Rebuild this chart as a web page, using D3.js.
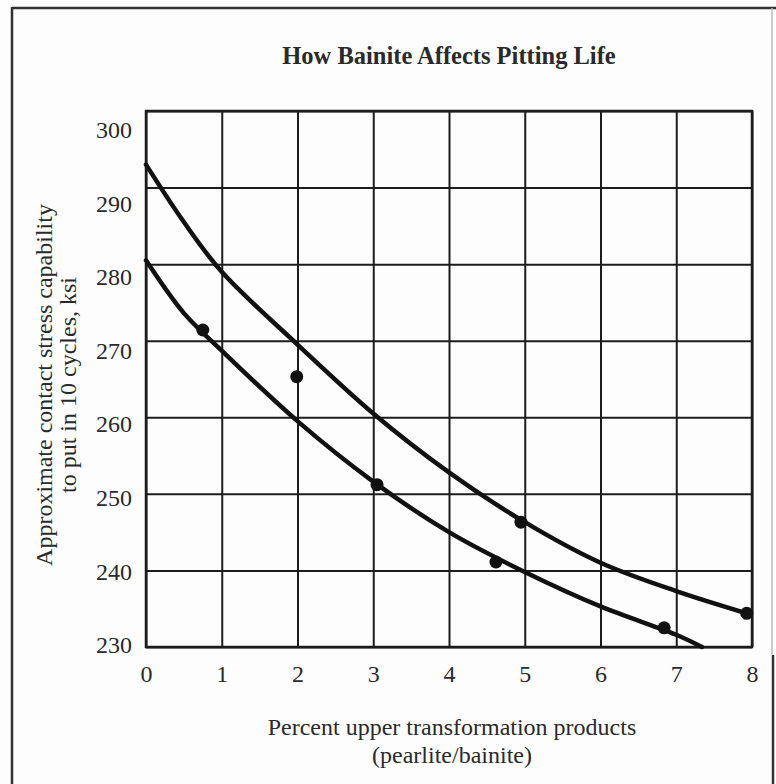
<!DOCTYPE html>
<html>
<head>
<meta charset="utf-8">
<script src="https://cdn.jsdelivr.net/npm/d3@7"></script>
<style>
  html, body { margin: 0; padding: 0; background: #fdfdfd; }
  svg { display: block; }
  text { font-family: "Liberation Serif", "DejaVu Serif", serif; fill: #2a2a2a; }
</style>
</head>
<body>
<svg id="chart" width="776" height="784"></svg>
<script>
(function() {

  'use strict';

  // chart data
  var xTicks = [0, 1, 2, 3, 4, 5, 6, 7, 8];
  var yTicks = [230, 240, 250, 260, 270, 280, 290, 300];

  // upper curve (drawn line)
  var upperX = [0, 0.5, 1, 2, 3, 4, 5, 6, 7, 7.93];
  var upperY = [293, 285.5, 279, 269.5, 260.5, 252.8, 246.3, 241, 237.3, 234.4];

  // lower curve (drawn line)
  var lowerX = [0, 0.5, 1, 2, 3, 4, 5, 6, 7, 7.34];
  var lowerY = [280.5, 273.6, 268.7, 259.5, 251.6, 245, 239.8, 235.3, 231.6, 230];

  // measured points
  var dotX = [0.75, 1.99, 3.05, 4.62, 4.95, 6.84, 7.93];
  var dotY = [271.4, 265.3, 251.2, 241.1, 246.3, 232.5, 234.4];

  var svg = d3.select('#chart');

  var left = 146, right = 752, top = 111, bottom = 647;

  var x = d3.scaleLinear().domain([0, 8]).range([left, right]);
  var y = d3.scaleLinear().domain([230, 300]).range([bottom, top]);
  // the printed y labels sit on a slightly tighter spacing than the grid
  var yLab = d3.scaleLinear().domain([230, 300]).range([645, 130]);

  // outer frame of the figure
  svg.append('line').attr('x1', 12).attr('y1', 8).attr('x2', 776).attr('y2', 8)
    .attr('stroke', '#333').attr('stroke-width', 2.5);
  svg.append('line').attr('x1', 12).attr('y1', 7).attr('x2', 12).attr('y2', 784)
    .attr('stroke', '#333').attr('stroke-width', 2.5);
  svg.append('line').attr('x1', 772).attr('y1', 8).attr('x2', 772).attr('y2', 655)
    .attr('stroke', '#bbb').attr('stroke-width', 1.5);
  svg.append('line').attr('x1', 773).attr('y1', 655).attr('x2', 773).attr('y2', 784)
    .attr('stroke', '#333').attr('stroke-width', 2.5);

  // title
  svg.append('text')
    .attr('x', 449).attr('y', 64)
    .attr('text-anchor', 'middle')
    .style('font-size', '24.5px').style('font-weight', 'bold')
    .text('How Bainite Affects Pitting Life');

  // grid via axes
  var gx = svg.append('g')
    .attr('transform', 'translate(0,' + bottom + ')')
    .call(d3.axisBottom(x).tickValues(xTicks).tickSize(-(bottom - top)).tickPadding(18));
  var gy = svg.append('g')
    .attr('transform', 'translate(' + left + ',0)')
    .call(d3.axisLeft(y).tickValues(yTicks).tickSize(-(right - left)).tickFormat(''));
  var gl = svg.append('g')
    .attr('transform', 'translate(' + left + ',0)')
    .call(d3.axisLeft(yLab).tickValues(yTicks).tickSize(0).tickPadding(14));
  gl.selectAll('.tick line').remove();

  [gx, gy, gl].forEach(function(g) {
    g.select('.domain').remove();
    g.selectAll('.tick line').attr('stroke', '#1c1c1c').attr('stroke-width', 2);
    g.selectAll('.tick text')
      .style('font-size', '24px')
      .style('font-family', '"Liberation Serif", serif')
      .attr('fill', '#333');
  });

  // plot border
  svg.append('rect')
    .attr('x', left).attr('y', top)
    .attr('width', right - left).attr('height', bottom - top)
    .attr('fill', 'none').attr('stroke', '#1c1c1c').attr('stroke-width', 2.5);

  // curves
  var line = d3.line()
    .x(function(d) { return x(d[0]); })
    .y(function(d) { return y(d[1]); })
    .curve(d3.curveCatmullRom.alpha(0.5));

  [[upperX, upperY], [lowerX, lowerY]].forEach(function(s) {
    svg.append('path')
      .datum(d3.zip(s[0], s[1]))
      .attr('d', line)
      .attr('fill', 'none')
      .attr('stroke', '#111')
      .attr('stroke-width', 4.5)
      .attr('stroke-linecap', 'round');
  });

  svg.selectAll('circle.dot')
    .data(d3.zip(dotX, dotY))
    .enter().append('circle')
    .attr('class', 'dot')
    .attr('cx', function(d) { return x(d[0]); })
    .attr('cy', function(d) { return y(d[1]); })
    .attr('r', 6.5)
    .attr('fill', '#111');

  // axis titles
  var yt = svg.append('text')
    .attr('transform', 'translate(52,385) rotate(-90)')
    .attr('text-anchor', 'middle')
    .style('font-size', '24px');
  yt.append('tspan').attr('x', 0).attr('dy', 0).text('Approximate contact stress capability');
  yt.append('tspan').attr('x', 0).attr('dy', 24).text('to put in 10 cycles, ksi');

  var xt = svg.append('text')
    .attr('text-anchor', 'middle')
    .style('font-size', '24px');
  xt.append('tspan').attr('x', 452).attr('y', 735).text('Percent upper transformation products');
  xt.append('tspan').attr('x', 452).attr('y', 763).text('(pearlite/bainite)');

})();
</script>
</body>
</html>
